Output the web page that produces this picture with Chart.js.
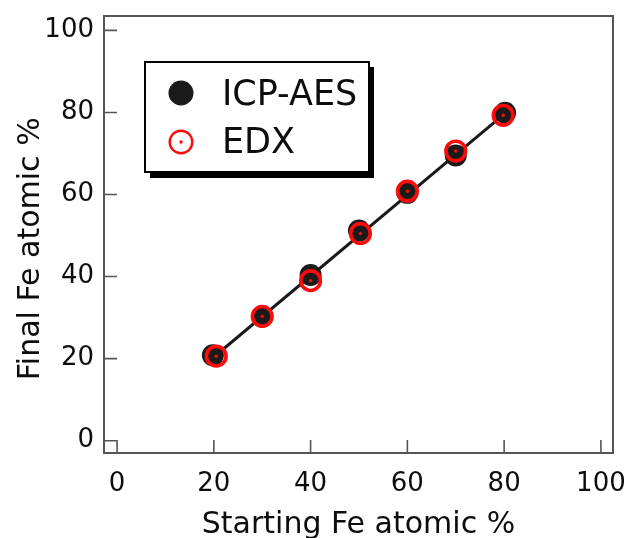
<!DOCTYPE html>
<html><head><meta charset="utf-8">
<script src="https://cdn.jsdelivr.net/npm/chart.js@4.4.1/dist/chart.umd.min.js"></script>
<style>html,body{margin:0;padding:0;background:#fff}#wrap{width:631px;height:538px}</style>
</head><body><div id="wrap"><canvas id="c" width="631" height="538"></canvas></div>
<script>
// ---- data ----
const xTicks = [0, 20, 40, 60, 80, 100];
const yTicks = [0, 20, 40, 60, 80, 100];
const seriesLabels = ['ICP-AES', 'EDX'];
const icpStart = [19.8, 30, 40, 50, 60, 70, 80.2];
const icpFinal = [20.8, 30.2, 40.4, 51.2, 60.4, 69.5, 79.9];
const edxStart = [20.5, 30, 40, 50.3, 60, 70, 79.8];
const edxFinal = [20.6, 30.3, 39.0, 50.5, 60.8, 70.6, 79.3];
const fitX = [20, 80];
const fitY = [20.4, 79.6];
const xTitle = 'Starting Fe atomic %';
const yTitle = 'Final Fe atomic %';

const pts = (xs, ys) => xs.map((v, i) => ({x: v, y: ys[i]}));
const FONT = 'DejaVu Sans';
const RED = '#ff0a0a';
const BLK = '#1a1a1a';

const framePlugin = {
  id: 'frame',
  beforeDatasetsDraw(chart) {
    const {ctx, chartArea: a, scales: {x, y}} = chart;
    ctx.save();
    ctx.strokeStyle = '#555';
    ctx.lineWidth = 2;
    ctx.strokeRect(a.left, a.top, a.right - a.left, a.bottom - a.top);
    ctx.lineWidth = 1.6;
    ctx.beginPath();
    x.ticks.forEach(t => { const p = x.getPixelForValue(t.value); ctx.moveTo(p, a.bottom); ctx.lineTo(p, a.bottom - 13); });
    y.ticks.forEach(t => { const p = y.getPixelForValue(t.value); ctx.moveTo(a.left, p); ctx.lineTo(a.left + 13, p); });
    ctx.stroke();
    ctx.restore();
  }
};

const legendPlugin = {
  id: 'boxLegend',
  afterDraw(chart) {
    const ctx = chart.ctx;
    ctx.save();
    ctx.fillStyle = '#000';
    ctx.fillRect(150, 67, 224, 111);
    ctx.fillStyle = '#fff';
    ctx.fillRect(145, 62, 224, 110);
    ctx.strokeStyle = '#000';
    ctx.lineWidth = 2;
    ctx.strokeRect(145, 62, 224, 110);
    ctx.fillStyle = BLK;
    ctx.beginPath(); ctx.arc(181, 93, 12.5, 0, Math.PI * 2); ctx.fill();
    ctx.strokeStyle = RED; ctx.lineWidth = 2.4;
    ctx.beginPath(); ctx.arc(181, 142, 11.3, 0, Math.PI * 2); ctx.stroke();
    ctx.fillStyle = RED;
    ctx.beginPath(); ctx.arc(181, 142, 1.7, 0, Math.PI * 2); ctx.fill();
    ctx.fillStyle = '#0d0d0d';
    ctx.font = '35px "' + FONT + '"';
    ctx.textBaseline = 'alphabetic';
    ctx.textAlign = 'left';
    ctx.fillText(chart.data.datasets[2].label, 222, 105);
    ctx.fillText(chart.data.datasets[1].label, 222, 153);
    ctx.restore();
  }
};

new Chart(document.getElementById('c'), {
  type: 'scatter',
  data: {
    datasets: [
      { label: 'EDX-center', data: pts(edxStart, edxFinal), pointRadius: 1.7, pointHoverRadius: 1.7,
        backgroundColor: RED, borderWidth: 0, order: 0 },
      { label: seriesLabels[1], data: pts(edxStart, edxFinal), pointRadius: 9.8, pointHoverRadius: 9.8,
        backgroundColor: 'rgba(0,0,0,0)', borderColor: RED, borderWidth: 3.6, order: 1 },
      { label: seriesLabels[0], data: pts(icpStart, icpFinal), pointRadius: 11, pointHoverRadius: 11,
        backgroundColor: BLK, borderWidth: 0, order: 2 },
      { label: 'fit', type: 'line', data: pts(fitX, fitY), showLine: true, pointRadius: 0,
        borderColor: BLK, borderWidth: 3, fill: false, order: 3 }
    ]
  },
  options: {
    responsive: false,
    animation: false,
    devicePixelRatio: 1,
    layout: { padding: { top: 16, right: 18, left: 0, bottom: 0 } },
    plugins: { legend: { display: false }, tooltip: { enabled: false } },
    scales: {
      x: {
        type: 'linear', min: -2.7, max: 102.5,
        afterBuildTicks: s => { s.ticks = xTicks.map(v => ({value: v})); },
        afterFit: s => { s.height = 85; s.paddingLeft = 0; s.paddingRight = 0; },
        grid: { display: false, drawTicks: false },
        border: { display: false },
        ticks: { padding: 16, color: '#0d0d0d', font: { family: FONT, size: 26 } },
        title: { display: true, text: xTitle, color: '#0d0d0d', padding: { top: 0, bottom: -2 },
                 font: { family: FONT, size: 30, lineHeight: 1 } }
      },
      y: {
        type: 'linear', min: -3.0, max: 103.5,
        afterBuildTicks: s => { s.ticks = yTicks.map(v => ({value: v})); },
        afterFit: s => { s.width = 104; s.paddingTop = 0; s.paddingBottom = 0; },
        grid: { display: false, drawTicks: false },
        border: { display: false },
        ticks: { padding: 10, color: '#0d0d0d', font: { family: FONT, size: 26 } },
        title: { display: true, text: yTitle + '\u00a0\u00a0\u00a0', color: '#0d0d0d', padding: { top: 16, bottom: 0 },
                 font: { family: FONT, size: 30, lineHeight: 1 } }
      }
    }
  },
  plugins: [framePlugin, legendPlugin]
});
</script></body></html>
